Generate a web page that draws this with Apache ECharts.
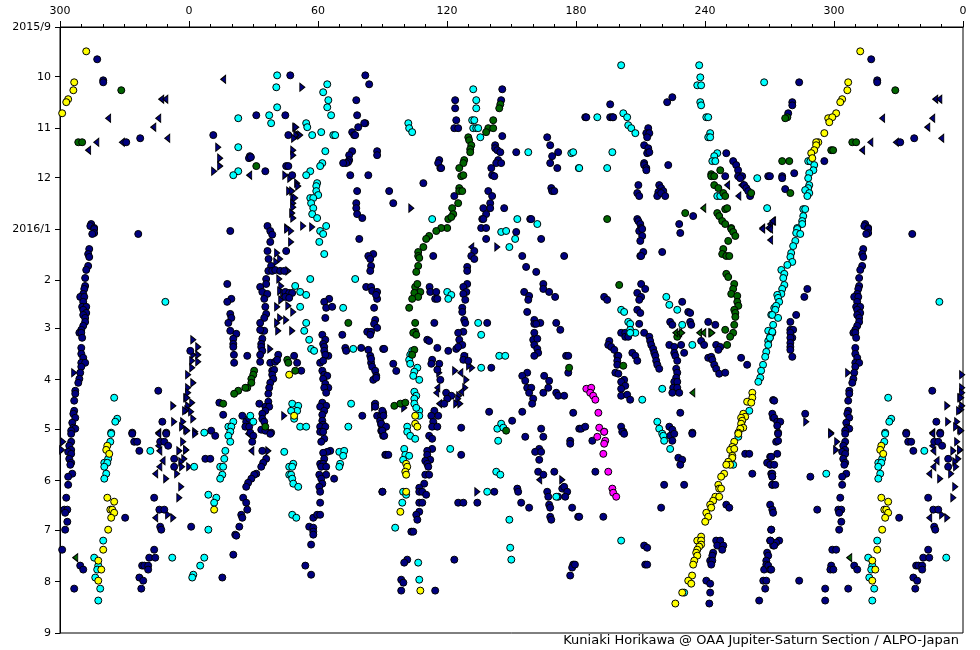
<!DOCTYPE html>
<html><head><meta charset="utf-8">
<script src="https://cdn.jsdelivr.net/npm/echarts@6/dist/echarts.min.js"></script>
<style>html,body{margin:0;padding:0;background:#fff}#c{width:980px;height:650px}</style>
</head><body><div id="c"></div>
<script>
// Flat lists: longitude (deg), day number (day 1.2 = 2015/9/1)
const monthStarts = [0,30,61,91,122,153,182,213,243,274,304,335,366];
const monthLabels = ["2015/9","10","11","12","2016/1","2","3","4","5","6","7","8","9"];
const dayOrigin = 1.2;
const credit = "Kuniaki Horikawa @ OAA Jupiter-Saturn Section / ALPO-Japan";

const navy = [
47.1,30.4,82,30.4,83.8,35.8,77.8,45.4,31.3,54.5,44.8,54.5,78.2,54.5,82,59.3,81.5,59.3,78.7,61.7,11.3,66.5,46.2,66.5,75.9,64.7,76.8,66.5,77.3,66.5,75.9,76.2,87.5,76.2,28.3,79.2,27.9,80.4,28.8,79.8,74.5,78.6,87.5,78.6,74.5,81.6,74,82.8,73.1,83.4,71.7,83.4,45.2,85.2,46.2,85.2,35.5,88.3,48,90.7,75,90.7,83.4,90.7,78.2,100.3,77.8,107.6,77.8,110.6,78.2,114.2,80.6,116.6,36.5,121.4,
19.2,124.4,37.8,124.4,38.7,126.6,37.8,131,79.2,129.2,36.5,136.5,45.2,136.5,85.7,138.3,83.4,139.5,37,141.3,84.3,141.3,38.2,145.5,84.7,145.5,36.9,148.5,38.7,148.5,40.1,148,42.4,148.5,44.3,148.5,84.3,148.5,35.9,153.4,17.8,156.4,35.9,156.4,33.1,158.2,82.4,158.2,84.7,158.2,34.1,161.2,36.4,162.4,44.8,161.2,46.6,161.8,48,161.8,85.2,160.6,87.5,161.2,35,165.4,44.8,164.2,46.6,164.8,19.7,165.4,17.8,167.2,65.2,165.4,62.9,167.2,87.5,165.4,87,163,35.5,170.2,63.8,170.8,66.6,170.2,86.1,170.8,35.9,174.5,19.2,174.5,35,176.9,19.7,176.9,63.4,176.9,86.6,178.1,33.1,179.9,18.3,179.9,86.1,180.5,87.5,182.9,34.1,184.7,35,184.7,33.1,184.1,19.2,184.7,22,186.5,62,187.1,71.3,187.1,82.9,185.3,84.7,185.3,84.3,187.1,20.6,189.5,34.1,189.5,63.4,190.1,20.6,192.6,33.6,192.6,62.4,192.6,20.6,194.4,33.6,194.4,62.9,194.4,72.7,195,73.1,196.8,80.1,195,90.3,195.6,83.4,196.2,0.6,196.8,34.1,196.8,62.9,196.8,20.9,199.2,27.1,199.8,33.1,199.2,41.5,199.2,48.9,199.8,64.8,199.8,63.4,199.2,84.3,199.8,21,204,33.1,203.4,37.8,204,40.1,203.4,41,202.2,50.3,204,61,204,62.4,202.8,84.7,204,84.7,201.6,38.7,208.8,39.6,208.2,62,208.8,52.2,208.8,85.2,206.4,86.6,208.8,38.7,211.2,62.9,211.2,64.3,211.9,87.1,211.9,39.2,213.7,62.4,213.7,85.7,214.3,87.1,213.1,37.8,216.1,63.4,216.7,37.3,219.1,64.8,219.1,62.9,219.1,36.9,222.7,63.8,222.1,14.1,228.1,32.7,228.7,36.9,227.5,62,228.1,63.8,230,61,230.5,86.6,228.7,35.5,230.5,37.3,230.5,86.6,230.5,62.9,233,35.5,233,34.1,234.8,15.9,235.4,24.8,236,62,235.4,80.6,236,87.5,236,89.4,236,90.3,234.2,34.1,237.8,35,239.6,26.6,239.6,28,237.8,62,239,62.4,241.4,88.9,239,26.2,242.6,28,242.6,89.4,241.4,61,242.6,63.4,242.6,10.3,245,33.6,244.4,35.5,245,38.2,246.2,28.5,246.2,89.4,245,61.5,245.6,
12.2,248.1,29.9,248.1,29.4,251.7,37.8,246.9,61,245.7,62.4,245.7,62.9,249.9,61.5,251.7,89.9,245.7,90.3,248.1,34.1,257.2,65.7,257.2,64.3,257.8,62.4,258.4,91.3,259.6,7.6,262,9.9,262,35.9,262,62.9,262,34.5,264.4,61,265,62.4,265,33.6,266.8,61.5,266.8,63.8,266.8,31.3,271,30.3,271.6,60.6,271.6,63.8,271.6,29,274,61.5,274,67.5,274,27.5,276.5,62,277,26.6,278.9,60.6,278.9,61,281.9,89.9,281.9,25.2,285.5,26.6,288.5,61,288.5,27.1,292.7,24.3,295.8,24.8,297.6,57.8,297.6,59.6,295.8,61,295.8,1,303,23.4,303,55.9,303,57.8,303.6,21.5,307.8,22,308.4,57.8,306,57.8,307.8,56.8,313.8,20.6,319.9,54.1,326.5,15.5,333.7,56.8,332,
145.7,38.8,123.8,45.4,145.2,45.4,123.8,50.3,124.3,57.5,123.4,62.3,125.2,62.3,145.7,67.1,166.6,67.8,142.4,72.6,168,72.6,142.4,74.4,143.4,75.6,144.8,76.8,152.2,76.8,171.7,76.8,168.9,79.2,116.4,81.6,143.8,81.6,115.9,83.4,142.9,83.4,145.2,83.4,168,83.4,116.9,86.4,117.3,86.4,140.6,86.4,171.3,86.4,141,90.7,142,91.3,109,95.5,168.5,98.5,93.1,100.3,139.2,100.3,168.9,100.3,169.9,100.3,123.4,103.3,141,103.3,95,107.6,140.1,107.6,136.9,110.6,140.1,110.6,146.6,110.6,138.2,114.2,136.4,117.2,136.9,117.2,158.7,117.2,159.2,117.2,
135.9,122.6,138.2,122.6,152.2,125,138.2,129.2,163.8,129.2,132.7,136.5,131.3,139.5,132.7,141.3,113.6,139.5,155,139.5,174.5,139.5,129.4,146.1,129.4,148.5,156.8,146.1,161.5,149.1,129.4,156.4,127.6,158.2,111.9,158.2,164.8,156.4,164.8,159.4,112.2,161.2,115,161.2,129,161.2,127.6,162.4,155.9,161.2,167.5,161.2,170.3,164.2,114.5,165.4,115.5,165.4,128.5,166,158.2,163.6,157.8,166,127.1,170.8,127.1,173.3,157.3,173.3,128,178.1,128.5,179.9,160.6,178.1,114.1,179.9,138.7,179.9,160.6,180.5,163.4,179.9,170.8,179.9,161.5,180.5,172.7,184.1,127.6,185.3,125.2,185.9,160.6,185.9,125.7,190.1,110.8,190.1,111.7,190.8,160.1,190.1,162,189.5,90.8,195.6,115.5,195,120.6,196.8,124.3,195.6,127.1,193.2,125.2,194.4,160.6,193.2,162,195.6,128,199.8,162.4,198,160.6,199.8,175.4,199.8,176.4,199.8,113.1,202.2,95,204.6,116.4,204.6,112.7,204.6,127.6,202.2,129.9,202.8,140.6,207,115.5,208.2,176.4,210,96.4,208.9,157.3,210,155,211.9,165.2,211.9,116.9,214.3,156.4,214.9,167.5,214.9,157.3,219.1,159.2,219.1,167.1,219.1,119.6,222.1,158.2,222.1,164.8,222.1,170.8,222.1,122,223.9,171.7,223.9,174.5,223.9,120.1,225.7,160.1,225.7,118.7,228.7,159.6,228.7,114.1,233,139.6,233.6,155,233.6,178.7,234.2,115.9,236,112.7,236,89.9,233,150.3,239,90.4,236,113.6,239.6,113.1,242.6,115.5,242.6,126.6,243.2,163.8,243.8,181.5,243.8,89.4,240.8,91.7,242.6,89.9,245,
90.8,248.1,111.7,248.1,113.1,249.9,156.4,248.7,164.8,248.7,177.3,251.1,177.3,252.9,113.1,256,110.8,257.2,162.9,256,161,257.8,163.8,257.8,91.7,259.6,92.7,259.6,126.6,259.6,110.8,259.6,162.9,262.6,112.2,262.6,109.9,263.2,110.8,265,111.3,266.8,109.9,271.6,111.7,271.6,162.4,269.8,164.8,271.6,169.9,269.8,109.4,277,107.1,279.5,107.1,281.9,108.5,281.9,110.3,283.7,90,281.9,142,281.9,152.7,280,153.1,281.9,166.6,281.9,173.6,280,174.5,278.9,175.9,281.9,167.1,284.9,171.7,284.9,175,284.9,107.1,288.5,108.5,288.5,125.2,288.5,127.6,288.5,134.1,288.5,154.5,288.5,167.5,289.7,158.2,291.5,168,291.5,178.2,291.5,107.1,294,105.7,295.8,106.2,298.8,168,297,168.5,298.8,181,297,103.4,306,104.3,306,101.5,322.9,100.1,324.7,123.4,322.9,178.7,325.9,178.2,327.7,177.3,332.5,98.7,335,99.7,336.8,98.7,341.6,114.5,341.6,
224.8,43.6,222.4,46.6,195.9,47.9,184.3,55.7,184.8,55.7,195.9,55.7,196.9,55.7,197.3,55.7,213.6,62.3,212.7,65.3,214.1,65.3,213.1,67.8,211.7,72.6,213.6,74.4,213.1,77.4,214.1,76.8,249.9,77.4,253.1,82.2,254.5,84.6,255.4,87.7,211.7,83.4,211.7,84.6,212.7,86.4,212.7,87.7,222.9,84.6,249.4,91.3,255.4,91.3,257.3,91.3,256.4,92.5,269.4,91.3,209,96.7,218.7,96.7,258.2,96.7,259.2,98.5,219.6,98.5,220.6,100.3,208.5,101.5,209.4,103.3,218.3,100.9,217.8,103.3,219.6,101.5,221.5,103.3,261,103.3,260.1,100.3,234.5,115.4,208.5,117.2,209,118.4,209.9,120.2,228,120.2,210.3,122.6,
209.4,124.4,210.8,123.2,210.8,127.4,209.9,130.4,228.5,125.6,211.3,137.1,209.9,139.5,220.1,137.1,210.3,139.5,210.3,156.4,212.2,159.4,208.5,161.8,210.3,164.2,209.4,166,193.1,164.2,194.5,166,229.4,167.2,208.5,172,209.9,173.9,232.2,173.3,233.1,173.9,209.4,180.5,223.8,179.3,224.8,181.1,233.1,179.3,233.6,181.1,241.5,179.3,244.8,181.1,201,185.9,202.9,185.9,211.7,185.9,202.9,188.3,204.3,188.3,214.1,188.3,214.5,190.8,195.5,190.8,195,193.2,196.4,194.4,215,193.2,215.9,195.6,223.4,193.2,225.7,194.4,228.9,193.2,238.2,190.8,239.6,193.2,245.2,193.2,247.1,194.4,246.2,196.2,197.8,196.2,199.2,199.8,199.7,199.8,206.2,198,207.6,199.8,216.4,198,216.9,199.8,225.7,198,230.3,198,226.2,199.8,241.5,201,242.9,200.4,243.4,202.2,256.8,201,199.2,202.8,208.5,202.8,217.3,202.8,227.1,202.8,244.3,205.2,259.6,205.2,217.8,205.2,199.2,205.2,218.7,207.6,245.2,207.6,226.6,207.6,198.3,210,199.7,210.6,227.1,210,246.6,210.6,249.4,210,226.6,213,225.7,215.5,227.1,215.5,202.4,214.3,201,215.5,202.9,217.9,201,219.7,225.2,219.1,227.1,219.1,224.8,222.1,228,222.1,201,223.9,203.8,223.3,205.2,226.3,228.5,234.2,182.4,243.8,184.3,242.6,201,242.6,202,245.6,223.4,242.6,224.8,244.4,234.1,246.2,271.7,226.5,271.7,237.2,
201.5,245.7,202.4,246.9,187.6,251.1,223.8,248.1,225.7,246.9,224.8,251.1,234.1,246.9,227.6,261.4,229.4,262.6,228.5,265.6,258.7,259,260.6,259,270.3,260.8,268.9,264.4,270.3,265.6,189,269.8,262,271,270.8,271,271.3,272.8,271.3,277.7,221,277.7,230.3,277.7,219.6,291.5,249.9,289.7,251.3,291.5,270.3,289.7,271.3,292.7,271.7,294.6,181.5,297,192.7,297,270.8,304.8,211.7,314.4,213.1,315.7,212.2,325.9,213.1,325.9,245.2,311.4,247.1,311.4,245.7,314.4,248.5,314.4,248,316.9,243.8,318.7,243.4,320.5,242.4,323.5,243.4,323.5,242.9,325.9,270.3,311.4,271.7,314.4,268.9,318.7,269.4,320.5,268.5,323.5,268.5,325.9,267.5,328.9,269.4,326.5,270.3,328.9,179.5,325.9,240.6,335.6,242.4,337.4,267.1,335.6,268.5,335.6,268,340.4,242.4,342.8,242,349.4,265.2,347.6,
317.3,20.7,283.8,34.6,320.1,33.4,320.1,34.6,280.6,46.6,280.6,48.5,278.7,53.3,337.3,68.4,330.8,70.8,295.5,82.2,281.5,89.5,275.9,91.3,275.9,92.5,270.2,91.3,277.3,99.1,314.5,120.2,314.1,121.4,315.9,122.6,
315.9,123.2,315.9,125.6,315,126.2,336.4,126.2,313.6,135.3,313.1,138.3,313.6,140.1,313.1,145.5,312.2,147.9,311.7,152.8,311.7,157.6,311.3,159.4,310.8,162.4,309.4,164.2,311.3,164.2,310.8,167.2,310.3,170.2,312.2,170.2,310.8,172,312.2,173.9,310.8,175.1,311.7,176.9,311.7,179.3,310.8,181.7,309.9,184.1,309,185.9,309.9,185.9,310.3,188.9,287.6,159.4,286.2,164.2,282.4,175.1,279.7,179.3,279.7,184.1,281,184.1,279.7,185.9,280.6,188.9,279.7,188.9,279.7,192,279.7,194.4,279.7,196.2,280.6,200.4,309.9,195,309.9,198.6,310.8,201,309.9,204,311.7,204,309.9,206.4,309.4,210,309,213.7,308.5,216.1,307.1,220.9,307.1,222.7,306.6,226.9,345.7,220.9,272.2,226.9,306.6,233,306.2,234.8,271.3,234.8,272.2,237.2,307.1,237.2,286.6,234.8,273.6,239.6,275,239.6,347.6,239.6,305.7,240.2,306.2,243.2,307.1,243.8,273.6,242,274,246.2,305.2,245,333.6,246.2,349.4,246.2,
274,246.9,273.1,251.7,274,251.1,273.6,259,270.8,260.8,272.2,265.6,271.3,271,271.3,272.8,271.3,277.7,272.7,277.7,305.2,246.9,333.6,246.9,349.4,246.9,305.2,251.7,334.5,251.7,335.9,251.7,346.6,251.7,348.5,251.7,350.3,254.1,304.3,254.1,305.2,256.6,303.8,257.8,305.2,259,336.9,257.2,304.3,262,305.2,264.4,353.1,262,304.8,265.6,353.1,266.8,305.7,271,289,272.8,303.8,272.8,303.8,277.7,302.9,285.5,343.8,285.5,292.2,292.7,302,292.7,303.4,292.7,302.4,294.6,346.2,292.7,348.5,292.7,330.3,297.6,303.4,300,346.6,303,347.1,304.8,302.4,304.8,270.8,304.8,274.5,311.4,273.1,312.6,272.2,314.4,270.4,311.4,299.2,316.9,301,316.9,343.8,316.9,341.5,321.7,344.3,321.7,298.7,326.5,309.4,326.5,338.2,326.5,339.2,326.5,341,326.5,298.3,328.9,299.7,328.9,310.8,328.9,341,328.9,270.8,328.9,336.9,333.7,338.7,335.6,283.8,335.6,295.9,340.4,306.6,340.4,337.8,340.4,295.9,347.6
];
const cyan = [
41,30.4,64.3,35.8,40.6,37.6,62.4,40.6,64.8,45.4,41,49.7,64.3,49.7,22.9,56.3,37.3,54.5,66.1,54.5,38.2,59.3,54.5,59.3,55,61.7,57.3,66.5,61.5,64.7,67.1,66.5,68,66.5,22.9,73.8,63.4,76.2,62,83.4,61,85.2,22.9,88.3,56.4,88.3,20.6,90.7,54.5,90.7,59.6,95.5,59.2,97.3,59.2,100.3,60.1,102.7,56.4,104.5,57.8,104.5,56.8,107.6,57.8,110.6,57.3,114.2,59.6,116.6,63.8,121.4,61,124.4,62.4,126.2,60.6,131,62.9,138.3,56.4,153.4,77.3,153.4,49.4,157.6,51.7,161.2,54.5,163,51.7,170.2,71.7,170.8,54.5,179.9,53.6,184.7,55.9,190.1,56.8,195.6,58.2,196.8,76.4,195.6,48,228.7,50.8,230,75.4,228.7,50.3,233,47.5,233,28.5,236,48.9,237.8,20.6,239.6,29.9,239.6,18.3,242.6,19.7,242.6,51.7,242.6,54.5,242.6,74.1,242.6,19.2,245.6,7.1,246.2,
18.3,248.1,19.2,251.7,16.9,257.2,44.3,257.8,69.9,257.8,72.2,257.2,71.7,260.2,16.4,262,70.3,265,48.5,265,2.4,266.8,14.5,266.8,15.9,266.8,46.6,266.8,48,266.8,69.9,266.8,15.5,271.6,46.6,271.6,47.5,271.6,14.5,274,48,274,48.5,277,50.8,278.9,9,283.7,12.7,285.5,11.7,288.5,48,295.8,49.9,297.6,9,304.8,7.1,321.7,5.2,326.5,2,332,1.5,333.7,
132.2,38.8,133.6,45.4,133.6,50.3,131.7,57.5,132.7,57.5,102,59.3,132.2,62.3,133.6,62.3,134.5,62.3,102.4,62.3,103.8,64.7,135.5,67.8,157.8,76.8,177.8,77.4,178.7,76.8,181.3,86.4,113.1,117.2,152.7,117.2,162,120.2,145.2,125,147.5,124.4,151.7,129.2,149,134.1,120.1,161.2,122,163,120.6,165.4,134.5,179.9,135.9,187.1,103.8,196.8,102.9,199.2,144.3,199.8,147.1,199.8,102.4,202.2,102.9,204.6,106.2,207,135.9,207,104.8,209.4,104.3,211.9,107.1,214.3,104.8,221.5,105.7,223.9,104.8,225.7,104.8,228.7,107.1,233,105.7,231.2,107.1,236,101.5,242.6,143.4,243.8,145.2,240.8,146.2,243.2,
101.5,245.7,102.9,248.1,105.2,249.9,143.8,251.1,100.1,256,121.5,256,100.6,259.6,102.4,260.2,99.6,262.6,142.9,269.8,144.8,271.6,99.6,281.9,101,283.7,138.7,281.9,170.8,284.9,99.2,288.5,149,298.8,95.9,303.6,149.4,315.7,149.9,322.9,106.6,324.7,107.1,335,
201,24.3,237.3,24.3,237.8,31.6,236.4,36.4,238.2,36.4,267.5,34.6,237.8,46.6,238.2,48.5,202,53.3,189.9,55.7,203.8,55.7,240.6,55.7,241.5,55.7,204.3,60.5,205.7,62.3,207.6,65.3,242.4,65.3,241.5,67.8,242.4,67.8,196.9,76.8,245.7,77.4,244.3,79.2,243.4,82.2,244.8,82.2,181.5,86.4,194.5,86.4,264.3,92.5,245.7,103.3,247.1,103.3,268.9,110.6,
222,164.2,223.4,169,201,172,202.4,173.3,227.1,172,204.3,179.3,205.2,180.5,229.4,181.1,205.2,184.1,207.6,185.9,205.2,185.9,234.1,193.2,220.1,219.7,210.8,226.3,260.6,233,217.8,239.6,218.7,243.8,220.1,246.8,272.2,170.9,270.8,175,269.4,184.7,271.3,185.9,270.3,188.3,269.4,190.8,269.4,193.2,268.5,197.4,268,200.4,267,205.2,266.1,208.8,265.7,213,264.8,215.5,
220.6,248.1,221,251.1,223.8,256,255.5,248.7,253.1,265.6,201,311.4,230.3,342.8,
288,82.2,289,82.2,290.8,84.6,290.4,87.7,288.5,89.5,288,92.5,288.5,96.7,288,98.5,286.6,99.7,288.5,101.5,287.6,103.3,285.7,111.2,286.6,111.2,285.7,115.4,285.2,118.4,285.2,120.2,282.9,122.6,
282.9,123.2,282.4,125.6,284.3,126.2,282,130.4,281,133.5,280.1,137.7,279.7,140.1,280.6,143.1,278.3,144.9,275.5,147.9,276.9,150.3,276.4,152.8,276.9,157,275.9,159.4,275.5,162.4,273.6,163,274,164.8,274.5,167.2,273.1,169.6,272.7,172,271.3,175.1,274,176.9,271.7,181.1,271.3,185.3,270.2,188.9,349,167.2,325.2,225.1,326.6,237.8,325.7,239.6,323.8,246.2,
323.8,246.9,323.4,251.7,342,257.2,322.4,262,320.6,264.4,322,264.4,320.6,266.8,321.5,271,296.4,271,320.6,274,320.1,311.4,315.9,321.7,352.2,321.7,317.8,326.5,317.3,328.9,316.4,333.7,318.7,340.4,317.8,347.6
];
const yellow = [
46.6,211.2,48.9,236,11.7,292.7,105.2,236,105.2,240.8,106.2,242.6,101,265,101.5,266.8,100.6,269.8,101,271.6,101,281.9,98.3,294,107.6,341.6,
262,222.1,262,225.1,259.6,227.5,261.5,228.1,257.8,234.8,258.7,236.6,256.8,237.2,257.3,239,256.8,240.8,257.8,243.2,256.4,243.8,255.5,246.2,255.5,246.9,253.6,251.7,252.7,254.8,251.7,256.6,253.6,256,252.7,260.2,252.7,261.4,250.8,263.8,251.7,265.6,249.9,265.6,248.9,271,247.5,272.8,246.2,277.7,246.6,280,247.5,280,244.8,284.9,246.6,284.9,243.8,287.3,242.4,289.7,242.9,291.5,240.6,294.6,241.5,297,240.1,300,238.2,309,236.4,311.4,238.2,311.4,238.2,313.8,237.3,315,236.4,316.9,235.9,318.7,236.4,320.5,235,323.5,234.5,325.9,234,332.5,232.2,335.6,233.6,337.4,229.4,342.8,226.2,349.4,
312.2,15.9,306.6,34.6,306.2,39.4,303.8,44.8,302.9,46.6,301,53.3,297.3,56.3,299.2,55.7,297.8,58.7,295.5,65.3,292.7,70.8,291.7,70.8,291.7,72.6,290.8,75.6,289.4,77.4,289.9,80.4,
322,254.1,321.5,256.6,322.9,259,322,285.5,325.2,287.9,323.4,292.7,324.3,292.7,325.2,294.6,323.8,297.6,322.4,304.8,320.1,316.9,317.8,323.5,319.2,328.9,317.8,335.6
];
const green = [
31.3,85.2,45.7,202.2,46.2,204,49.4,208.8,30.3,208.8,29.9,211.2,29,213.7,29,216.1,27.1,219.1,26.2,219.1,22.9,220.9,21,222.7,15.9,228.7,35.5,242.6,74.1,179.9,
144.8,47.9,144.3,50.3,141.5,57.5,139.2,62.3,141.5,62.3,138.2,64.7,129.9,67.8,130.3,69.6,131.3,72.6,130.8,75,130.8,76.8,128,81.6,127.6,83.4,125.7,86.4,126.6,91.3,127.6,90.7,125.7,98.5,125.7,100.3,127.1,100.3,125.2,107.6,122.4,110.6,122.9,114.2,120.6,117.2,122,116,120.1,122.6,117.3,122.6,115,124.4,111.7,127.4,110.3,129.2,109,134.1,106.6,137.1,106.6,139.5,107.1,140.7,106.6,145.5,105.7,149.1,105.2,158.2,106.2,156.4,107.6,161.2,104.8,161.8,106.6,164.2,103.8,165.4,102.4,170.8,105.2,179.9,105.2,185.3,104.3,185.9,105.7,187.1,104.8,196.2,103.8,199.2,176.8,207,95.5,230,98.3,228.7,100.6,228.1,147.5,245,
247.1,87.7,242.9,90.1,242.9,91.3,244.3,91.3,244.3,96.7,246.2,98.5,248.5,101.5,249.4,103.3,261.5,101.5,249.4,111.2,250.3,110.6,230.8,113.6,245.7,113.6,246.6,115.4,194.5,117.2,248,118.4,249.4,120.2,252.2,122.6,252.2,123.2,253.1,125,254.1,127.4,250.8,130.4,248.5,135.3,248,138.3,249.9,139.5,251.3,139.5,249.9,150.3,250.8,152.2,200.1,157,253.6,156.4,253.1,159.4,252.2,162.4,255,163.6,255,167.2,255.5,169.6,253.6,172,254.1,173.9,254.1,176.3,253.6,181.1,249.4,184.1,227.1,188.3,253.1,185.9,251.7,188.3,250.3,193.2,202,205.8,
328.5,39.4,278.3,55.7,277.3,56.3,308.5,70.8,310.3,70.8,298.7,75.6,299.6,75.6,275.9,82.2,279.2,82.2,279.7,101.5
];
const magenta = [
184.8,219.7,187.1,219.1,186.6,222.1,188,223.9,189,226.3,190.4,234.2,190.8,243.2,193.1,245.6,193.1,245.7,189.9,248.7,193.6,251.1,193.1,252.9,192.7,259,195,269.8,196.9,280,197.3,282.5,198.7,284.9
];
const rightTriangles = [
52.7,37.6,49.4,61.7,49.9,61.7,50.8,66.5,51.7,66.5,49.9,66.5,48.9,68.4,13.6,73.8,48.5,75.6,14.5,80.4,48.5,78.6,14.5,85.2,11.7,88.3,44.8,90.7,47.1,92.5,50.3,95.5,50.8,97.3,46.6,100.3,48,100.3,48.5,104.5,49.4,104.5,48.5,107.6,48.5,110,48,113.6,48.5,116.6,53.1,121.4,57.3,122,45.7,122.6,45.7,123.2,47.5,124.4,47.5,131,41,137.7,42.4,141.3,40.6,143.1,46.2,148.5,42,153.4,42.9,157.6,42.4,160.6,43.8,161.8,42.9,166,41,170.2,46.2,169.6,48.5,173.3,42.4,176.9,45.2,178.1,41,179.9,41.5,184.7,48,184.7,2,190.1,4.3,194.4,37.8,195.6,4.3,199.2,2,199.2,1.5,202.8,4.3,203.4,1.5,207,-0.4,211.2,2,216.1,-0.4,219.1,-0.4,222.1,-1.3,225.1,1.5,228.1,-0.4,230,86.1,230.5,-0.8,232.4,1,233.6,44.3,236,2,237.8,-1.3,244.4,2.9,245.6,2.9,246.9,-1.3,256.6,36.9,257.2,0.1,266.8,
103.4,110.6,143.4,134.1,131.7,207,130.3,205.8,123.8,208.8,116.4,210,129,214.3,128.5,219.1,125.7,223.9,125.2,225.7,100.1,231.2,124.3,228.7,126.2,228.7,134.1,281.9,173.6,274.7,
306.6,210,359.2,225.1,352.7,230,358.2,233,287.1,239.6,353.1,239.6,357.3,239.6,356.8,242.6,359.2,245,298.7,246.2,298.7,246.9,301.5,251.7,357.3,251.7,301,256.6,355.5,257.2,358.7,256.6,357.8,262,356.4,263.8,356.8,266.8,354.5,271,349.4,274,356.4,278.9,355.5,285.5,350.3,295.8,352.7,297.6
];
const leftTriangles = [
15.9,32.8,28,90.7,27.5,246.9,29,257.2,131.3,134.1,128.5,201,126.2,210,115.5,219.1,126.6,221.5,115,222.1,116.4,228.7,162.9,274.7,
250.3,96.7,256.9,96.7,255.5,103.3,266.6,122.6,270.3,120.2,271.7,118.4,269.4,122.6,266.6,123.2,270.3,129.9,270.3,123.2,271.3,118.4,
347.1,44.8,349,44.8,322.4,56.3,345.7,56.3,343.4,61.7,349.9,68.4,316.9,70.8,328.8,70.8,313.1,75.6,345.7,246.2,345.7,246.9,345.7,254.1,346.2,257.2,347.7,263.2,346.2,266.8,344.3,271,344.3,297.6
];
const greenLeftTriangles = [239.2,110.6,226.2,185.9,228,185.9,237.3,185.9,239.2,185.9,234.1,222.1,307.1,321.7];
const greenRightTriangles = [229.4,185.9,242.9,185.9,243.4,185.9];

// the plot repeats 300-360 deg on the left of 0
function points(flat){
  const out=[];
  for(let i=0;i<flat.length;i+=2){
    const lon=(flat[i]+360)%360, day=flat[i+1];
    out.push([lon,day]);
    if(lon>=300) out.push([lon-360,day]);
  }
  return out;
}
function series(flat,color,symbol,size,rotate){
  return {type:'scatter',data:points(flat),symbol:symbol,symbolSize:size,symbolRotate:rotate||0,
    itemStyle:{color:color,borderColor:'#000',borderWidth:1,opacity:1},silent:true,clip:false};
}
const NAVY='#000080',CYAN='#00FFFF',YEL='#FFFF00',GRN='#006400',MAG='#FF00FF';
const ticks=monthStarts.map(d=>d+dayOrigin);
const chart=echarts.init(document.getElementById('c'),null,{renderer:'canvas'});
chart.setOption({
  animation:false,backgroundColor:'#fff',
  title:{text:credit,right:21,top:634,padding:0,textStyle:{fontFamily:'DejaVu Sans',fontSize:13,fontWeight:'normal',color:'#000'}},
  grid:{left:60,right:17,top:27,bottom:17,show:true,borderColor:'#000',borderWidth:1,backgroundColor:'#fff'},
  xAxis:{type:'value',position:'top',min:-60,max:360,interval:60,
    axisLine:{onZero:false,lineStyle:{color:'#000',width:1}},
    axisTick:{inside:false,length:6,lineStyle:{color:'#000'}},
    minorTick:{show:true,splitNumber:6,length:3,lineStyle:{color:'#000'}},
    splitLine:{show:false},minorSplitLine:{show:false},
    axisLabel:{color:'#000',fontFamily:'DejaVu Sans',fontSize:11,margin:10,hideOverlap:false,
      formatter:v=>String(((v%360)+360)%360)}},
  yAxis:{type:'value',inverse:true,min:dayOrigin,max:366+dayOrigin,
    axisLine:{onZero:false,show:true,lineStyle:{color:'#000',width:1}},
    axisTick:{show:true,length:5,customValues:ticks,lineStyle:{color:'#000'}},
    splitLine:{show:false},
    axisLabel:{color:'#000',fontFamily:'DejaVu Sans',fontSize:11,margin:9,customValues:ticks,
      formatter:v=>monthLabels[ticks.findIndex(t=>Math.abs(t-v)<0.01)]||''}},
  series:[
    series(rightTriangles,NAVY,'triangle',[8,5],-90),
    series(leftTriangles,NAVY,'triangle',[8,5],90),
    series(navy,NAVY,'circle',7),
    series(cyan,CYAN,'circle',7),
    series(green,GRN,'circle',7),
    series(greenLeftTriangles,GRN,'triangle',[8,5],90),
    series(greenRightTriangles,GRN,'triangle',[8,5],-90),
    series(yellow,YEL,'circle',7),
    series(magenta,MAG,'circle',7)
  ]
});
</script></body></html>
